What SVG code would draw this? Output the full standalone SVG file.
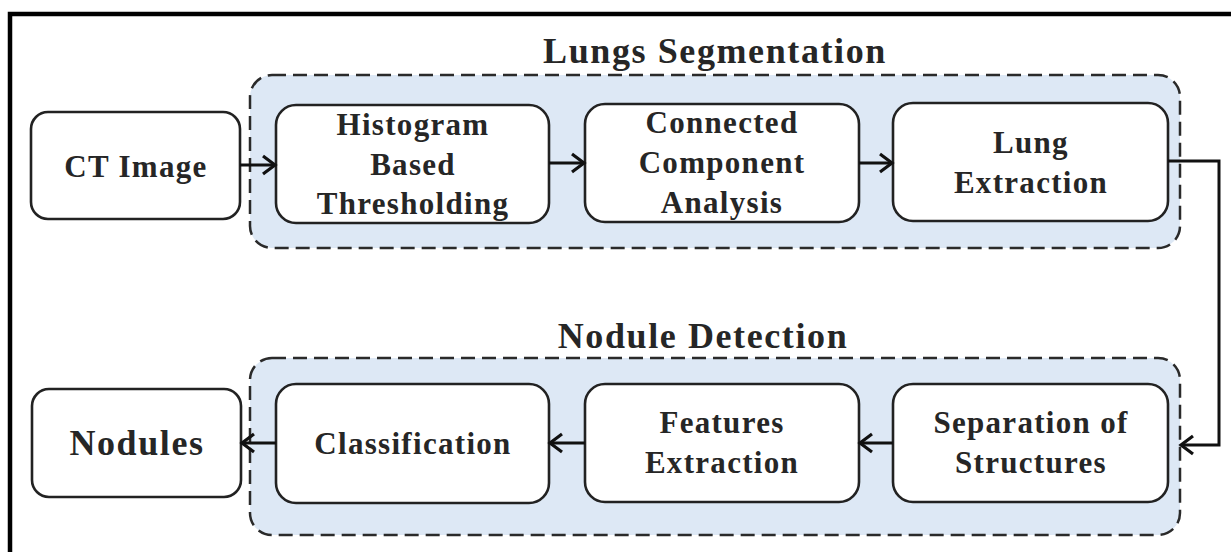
<svg xmlns="http://www.w3.org/2000/svg" width="1231" height="552" viewBox="0 0 1231 552">
<style>
.frame{fill:none;stroke:#000;stroke-width:4.5}
.grp{fill:#dde8f5;stroke:#2a2a2a;stroke-width:2.5;stroke-dasharray:14 7}
.box{fill:#fff;stroke:#222;stroke-width:2.6}
.t{font-family:"Liberation Serif","Times New Roman",serif;font-weight:bold;fill:#262626;text-anchor:middle;font-size:31px;letter-spacing:1.3px}
.big{font-size:36px;letter-spacing:1.6px}
.title{font-size:36px;letter-spacing:1.6px}
.con{fill:none;stroke:#111;stroke-width:3}
</style>
<defs>
<marker id="ah" markerUnits="userSpaceOnUse" markerWidth="18" markerHeight="24" refX="14" refY="11" orient="auto">
<path d="M2,2 L14,11 L2,20" fill="none" stroke="#111" stroke-width="3.2"/>
</marker>
</defs>
<rect width="1231" height="552" fill="#fff"/>
<path class="frame" d="M10,560 V14 H1240"/>

<g id="lungs-segmentation">
<rect class="grp" x="250" y="75" width="930" height="173" rx="22"/>
<text class="t title" x="715" y="63">Lungs Segmentation</text>
</g>
<g id="nodule-detection">
<rect class="grp" x="250" y="358" width="930" height="177" rx="22"/>
<text class="t title" x="703" y="348">Nodule Detection</text>
</g>

<g id="ct-image">
<rect class="box" x="31" y="112" width="209" height="107" rx="17"/>
<text class="t" x="136" y="177">CT Image</text>
</g>
<g id="histogram">
<rect class="box" x="276" y="105" width="273" height="118" rx="20"/>
<text class="t" x="413" y="135">Histogram</text>
<text class="t" x="413" y="175">Based</text>
<text class="t" x="413" y="214">Thresholding</text>
</g>
<g id="connected">
<rect class="box" x="585" y="104" width="274" height="118" rx="20"/>
<text class="t" x="722" y="133">Connected</text>
<text class="t" x="722" y="173">Component</text>
<text class="t" x="722" y="213">Analysis</text>
</g>
<g id="lung-extraction">
<rect class="box" x="893" y="103" width="275" height="118" rx="20"/>
<text class="t" x="1031" y="153">Lung</text>
<text class="t" x="1031" y="193">Extraction</text>
</g>

<g id="nodules">
<rect class="box" x="32" y="389" width="209" height="108" rx="17"/>
<text class="t big" x="137" y="455">Nodules</text>
</g>
<g id="classification">
<rect class="box" x="276" y="384" width="273" height="119" rx="20"/>
<text class="t" x="413" y="454">Classification</text>
</g>
<g id="features">
<rect class="box" x="585" y="384" width="274" height="118" rx="20"/>
<text class="t" x="722" y="433">Features</text>
<text class="t" x="722" y="473">Extraction</text>
</g>
<g id="separation">
<rect class="box" x="893" y="384" width="275" height="118" rx="20"/>
<text class="t" x="1031" y="433">Separation of</text>
<text class="t" x="1031" y="473">Structures</text>
</g>

<g id="connectors">
<path class="con" d="M240,165 H275" marker-end="url(#ah)"/>
<path class="con" d="M549,163 H584" marker-end="url(#ah)"/>
<path class="con" d="M859,163 H892" marker-end="url(#ah)"/>
<path class="con" d="M1168,161 H1219 V445 H1181" marker-end="url(#ah)"/>
<path class="con" d="M893,443 H860" marker-end="url(#ah)"/>
<path class="con" d="M585,443 H550" marker-end="url(#ah)"/>
<path class="con" d="M276,443 H242" marker-end="url(#ah)"/>
</g>
</svg>
